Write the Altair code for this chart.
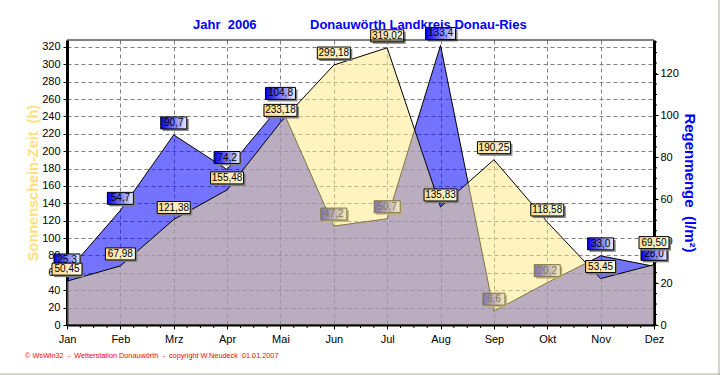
import json
import altair as alt
import pandas as pd

# ---------------- data ----------------
months = ["Jan", "Feb", "Mrz", "Apr", "Mai", "Jun", "Jul", "Aug", "Sep", "Okt", "Nov", "Dez"]
sun_hours = [50.45, 67.98, 121.38, 155.48, 233.18, 299.18, 319.02, 135.83, 190.25, 118.58, 53.45, 69.50]
rain_mm = [25.3, 54.7, 90.7, 74.2, 104.8, 47.2, 50.7, 133.4, 6.6, 20.2, 33.0, 28.0]
sun_axis_values = list(range(0, 321, 20))
rain_axis_values = list(range(0, 121, 20))
rain_minor_values = list(range(0, 136, 5))
month_minor_values = [m + q / 4 for m in range(11) for q in (1, 2, 3)]

NB = "\u00a0"
title_left = f"Jahr{NB}{NB}2006"
title_right = "Donauwörth Landkreis Donau-Ries"
footer = f"© WsWin32{NB} -{NB} Wetterstation Donauwörth{NB} -{NB} copyright W.Neudeck{NB} 01.01.2007"
sun_title = f"Sonnenschein-Zeit{NB}{NB}(h)"
rain_title = f"Regenmenge{NB}{NB}(l/m²)"

# ---------------- layout ----------------
W, H = 587, 285
SUN_MAX, RAIN_MAX = 328, 136
FONT = "Liberation Sans"
GRID = "#808080"

df = pd.DataFrame({"i": list(range(12)), "month": months, "sun": sun_hours, "rain": rain_mm})
df["sun_lab"] = [f"{v:.2f}".replace(".", ",") for v in sun_hours]
df["rain_lab"] = [f"{v:.1f}".replace(".", ",") for v in rain_mm]

xscale = alt.Scale(domain=[0, 11], nice=False, zero=False)
x_axis = alt.Axis(
    values=list(range(12)), labelExpr=f"{json.dumps(months)}[datum.value]", title=None,
    grid=True, gridColor=GRID, gridDash=[4, 3], gridWidth=1,
    tickSize=4, tickColor="black", domainColor="black", domainWidth=2,
    labelFont=FONT, labelFontSize=11, labelColor="black", labelPadding=4, labelFlush=False,
)
sun_axis = alt.Axis(
    values=sun_axis_values, orient="left", title=sun_title,
    titleColor="#FFE080", titleFont=FONT, titleFontSize=14.5, titleFontWeight="bold", titlePadding=1,
    grid=True, gridColor=GRID, gridDash=[4, 3], gridWidth=1,
    tickSize=4, tickColor="black", domainColor="black", domainWidth=3,
    labelFont=FONT, labelFontSize=11, labelColor="black", labelPadding=3,
)
rain_axis = alt.Axis(
    values=rain_axis_values, orient="right", title=rain_title,
    titleColor="#0000FF", titleFont=FONT, titleFontSize=15, titleFontWeight="bold", titleAngle=90,
    titlePadding=3, grid=False,
    tickSize=4, tickColor="black", domainColor="black", domainWidth=3,
    labelFont=FONT, labelFontSize=11, labelColor="black", labelPadding=2,
)


def X(field="i"):
    return alt.X(f"{field}:Q", scale=xscale, axis=x_axis)


def Ysun(field="sun"):
    return alt.Y(f"{field}:Q", scale=alt.Scale(domain=[0, SUN_MAX], nice=False, zero=True), axis=sun_axis)


def Yrain(field="rain"):
    return alt.Y(f"{field}:Q", scale=alt.Scale(domain=[0, RAIN_MAX], nice=False, zero=True), axis=rain_axis)


blue_grad = alt.Gradient(gradient="linear", x1=0, x2=1, y1=0, y2=0,
                         stops=[alt.GradientStop(color="#0000E6", offset=0),
                                alt.GradientStop(color="#ECECFF", offset=1)])
yellow_grad = alt.Gradient(gradient="linear", x1=0, x2=1, y1=0, y2=0,
                           stops=[alt.GradientStop(color="#FFDC8A", offset=0),
                                  alt.GradientStop(color="#FFFBEA", offset=1)])
box_widths = {3: 22, 4: 26, 5: 30, 6: 33}


def label_layers(field, lab, yfn, grad, flt="true", yoff=-12):
    out = []
    for n, w in box_widths.items():
        base = alt.Chart(df).transform_filter(f"({flt}) && length(datum.{lab}) == {n}")
        out.append(base.mark_rect(width=w, height=12, fill="#808080", xOffset=2, yOffset=yoff + 2)
                   .encode(x=X(), y=yfn(field)))
        out.append(base.mark_rect(width=w, height=12, fill=grad, stroke="black", strokeWidth=1, yOffset=yoff)
                   .encode(x=X(), y=yfn(field)))
    out.append(alt.Chart(df).transform_filter(flt)
               .mark_text(font=FONT, fontSize=10, color="black", dy=yoff, baseline="middle", align="center")
               .encode(x=X(), y=yfn(field), text=f"{lab}:N"))
    return out


one = pd.DataFrame({"a": [0]})

# ---------- rain group (right axis) ----------
blue_area = alt.Chart(df).mark_area(fill="#0000FF", fillOpacity=0.55, stroke="black", strokeWidth=1,
                                    interpolate="linear").encode(x=X(), y=Yrain())
rain_minor = alt.Chart(pd.DataFrame({"v": rain_minor_values})).mark_rule(color="black").encode(
    y=Yrain("v"), x=alt.value(W), x2=alt.value(W + 3))
rain_group = alt.layer(blue_area, rain_minor, *label_layers("rain", "rain_lab", Yrain, blue_grad))

# ---------- sunshine group (left axis) ----------
yellow_area = alt.Chart(df).mark_area(fill="#FFE880", fillOpacity=0.5, stroke="black", strokeWidth=1,
                                      interpolate="linear").encode(x=X(), y=Ysun())
top_frame = alt.Chart(one).mark_rule(color="black", strokeWidth=1).encode(
    x=alt.value(0), x2=alt.value(W), y=alt.value(0))
x_minor = alt.Chart(pd.DataFrame({"q": month_minor_values})).mark_rule(color="black").encode(
    x=X("q"), y=alt.value(H), y2=alt.value(H + 3))
t1 = alt.Chart(one).mark_text(font=FONT, fontSize=13, fontWeight="bold", color="#0000FF",
                              align="left", baseline="middle").encode(
    x=alt.value(126), y=alt.value(-15), text=alt.value(title_left))
t2 = alt.Chart(one).mark_text(font=FONT, fontSize=13, fontWeight="bold", color="#0000FF",
                              align="left", baseline="middle").encode(
    x=alt.value(243), y=alt.value(-15), text=alt.value(title_right))
foot = alt.Chart(one).mark_text(font=FONT, fontSize=7.3, color="#FF0000",
                                align="left", baseline="middle").encode(
    x=alt.value(-42), y=alt.value(315.5), text=alt.value(footer))
border_r = alt.Chart(one).mark_rule(color="#ACA899", strokeWidth=1).encode(
    x=alt.value(652), y=alt.value(-40), y2=alt.value(335))
border_b = alt.Chart(one).mark_rule(color="#ACA899", strokeWidth=1).encode(
    x=alt.value(-67), x2=alt.value(653), y=alt.value(334))

sun_group = alt.layer(
    yellow_area,
    *label_layers("sun", "sun_lab", Ysun, yellow_grad, flt="datum.i != 11"),
    *label_layers("sun", "sun_lab", Ysun, yellow_grad, flt="datum.i == 11", yoff=-22),
    top_frame, x_minor, t1, t2, foot, border_r, border_b,
)

chart = (
    alt.layer(rain_group, sun_group)
    .resolve_scale(y="independent")
    .properties(width=W, height=H, background="white",
                autosize=alt.AutoSizeParams(type="none"),
                padding={"left": 67, "top": 40, "right": 66, "bottom": 50})
    .configure_view(stroke=None)
)

chart.save("out.html", embed_options={"renderer": "svg", "actions": False})
